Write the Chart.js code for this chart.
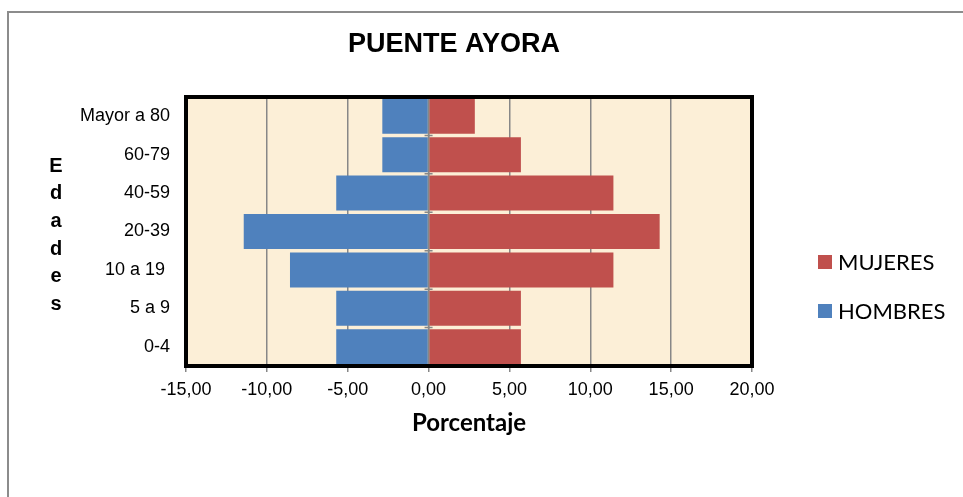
<!DOCTYPE html>
<html>
<head>
<meta charset="utf-8">
<script src="https://cdn.jsdelivr.net/npm/chart.js@4.4.1/dist/chart.umd.min.js"></script>
<style>
  html, body { margin: 0; padding: 0; background: #fff; }
  #wrap { width: 963px; height: 497px; }
</style>
</head>
<body>
<div id="wrap"><canvas id="pyramid" width="963" height="497"></canvas></div>
<script>
// --- Data ---
const ageGroups = ['Mayor a 80', '60-79', '40-59', '20-39', '10 a 19 ', '5 a 9', '0-4'];
const mujeres = [2.86, 5.71, 11.43, 14.29, 11.43, 5.71, 5.71];
const hombres = [-2.86, -2.86, -5.71, -11.43, -8.57, -5.71, -5.71];
const xTicks = [-15, -10, -5, 0, 5, 10, 15, 20];

const chartTitle = 'PUENTE AYORA';
const yTitle = 'Edades';
const xTitle = 'Porcentaje';

const RED = '#C0504D';
const BLUE = '#4F81BD';
const GRID = '#878787';

// frame, background, titles and legend
const decorPlugin = {
    id: 'decor',
    beforeDraw(chart) {
        const { ctx, chartArea: a } = chart;
        ctx.save();
        // outer grey frame
        ctx.strokeStyle = '#8c8c8c';
        ctx.lineWidth = 2;
        ctx.beginPath();
        ctx.moveTo(8, 500);
        ctx.lineTo(8, 12);
        ctx.lineTo(970, 12);
        ctx.stroke();
        // plot background
        ctx.fillStyle = '#FCEFD7';
        ctx.fillRect(a.left, a.top, a.right - a.left, a.bottom - a.top);
        ctx.restore();
    },
    afterDatasetsDraw(chart) {
        const { ctx, chartArea: a, scales } = chart;
        const x0 = scales.x.getPixelForValue(0);
        ctx.save();
        ctx.strokeStyle = GRID;
        ctx.lineWidth = 1.5;
        ctx.beginPath();
        ctx.moveTo(x0, a.top);
        ctx.lineTo(x0, a.bottom);
        // little category ticks on the zero axis
        for (let i = 0; i <= ageGroups.length; i++) {
            const y = a.top + (a.bottom - a.top) * i / ageGroups.length;
            ctx.moveTo(x0 - 4, y);
            ctx.lineTo(x0 + 4, y);
        }
        ctx.stroke();
        // black plot frame
        ctx.strokeStyle = '#000';
        ctx.lineWidth = 4;
        ctx.strokeRect(a.left, a.top, a.right - a.left, a.bottom - a.top);
        ctx.restore();
    },
    afterDraw(chart) {
        const { ctx, chartArea: a } = chart;
        ctx.save();
        ctx.fillStyle = '#000';
        ctx.textAlign = 'center';
        ctx.textBaseline = 'middle';

        ctx.font = 'bold 27px "Liberation Sans", Arial, sans-serif';
        ctx.fillText(chartTitle, 454, 45);

        ctx.font = 'bold 20px "Liberation Sans", Arial, sans-serif';
        yTitle.split('').forEach((ch, i) => {
            ctx.fillText(ch, 56, 166 + i * 27.7);
        });

        ctx.font = 'bold 24px Lato, "Open Sans", sans-serif';
        ctx.fillText(xTitle, 469, 423);

        // legend
        const items = [{ text: 'MUJERES', color: RED, y: 262 }, { text: 'HOMBRES', color: BLUE, y: 311 }];
        ctx.textAlign = 'left';
        ctx.font = '22px Lato, "Open Sans", sans-serif';
        items.forEach(it => {
            ctx.fillStyle = it.color;
            ctx.fillRect(818, it.y - 7, 14, 14);
            ctx.fillStyle = '#000';
            ctx.fillText(it.text, 838, it.y + 1);
        });
        ctx.restore();
    }
};

new Chart(document.getElementById('pyramid'), {
    type: 'bar',
    data: {
        labels: ageGroups,
        datasets: [
            { label: 'MUJERES', data: mujeres, backgroundColor: RED, borderWidth: 0 },
            { label: 'HOMBRES', data: hombres, backgroundColor: BLUE, borderWidth: 0 }
        ]
    },
    options: {
        indexAxis: 'y',
        responsive: false,
        animation: false,
        devicePixelRatio: 1,
        layout: { padding: { top: 97, right: 211, left: 0, bottom: 0 } },
        datasets: { bar: { barPercentage: 0.91, categoryPercentage: 1 } },
        plugins: {
            legend: { display: false },
            title: { display: false },
            tooltip: { enabled: false }
        },
        scales: {
            x: {
                stacked: true,
                min: -15,
                max: 20,
                afterBuildTicks: (scale) => { scale.ticks = xTicks.map(v => ({ value: v })); },
                afterFit: (scale) => { scale.height = 131; },
                border: { display: false },
                grid: { color: GRID, lineWidth: 1.5, tickLength: 6, drawTicks: true },
                ticks: {
                    color: '#000',
                    padding: 7,
                    maxRotation: 0,
                    autoSkip: false,
                    font: { family: '"Liberation Sans", Arial, sans-serif', size: 18 },
                    callback: (v) => Number(v).toFixed(2).replace('.', ',')
                }
            },
            y: {
                stacked: true,
                afterFit: (scale) => { scale.width = 186; },
                border: { display: false },
                grid: { display: false },
                ticks: {
                    color: '#000',
                    padding: 8,
                    font: { family: '"Liberation Sans", Arial, sans-serif', size: 18 }
                }
            }
        }
    },
    plugins: [decorPlugin]
});
</script>
</body>
</html>
